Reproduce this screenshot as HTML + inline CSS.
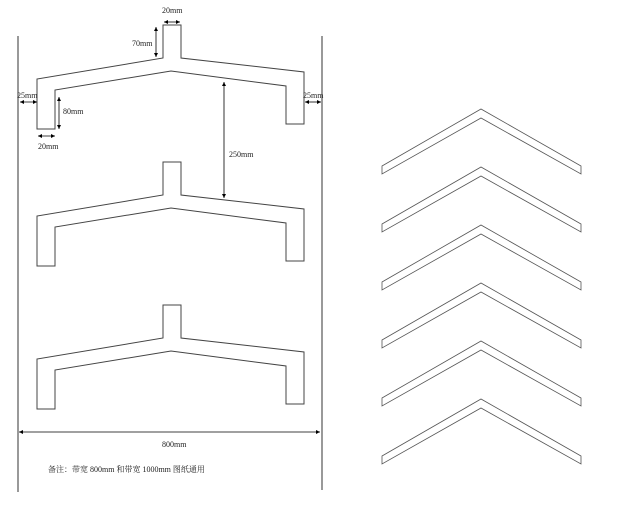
<!DOCTYPE html>
<html><head><meta charset="utf-8"><style>
html,body{margin:0;padding:0;background:#fff;width:624px;height:522px;overflow:hidden}
svg{display:block}
text{font-family:"Liberation Serif","Noto Serif CJK SC",serif;font-size:8px;fill:#222}
</style></head><body>
<svg width="624" height="522" viewBox="0 0 624 522" xmlns="http://www.w3.org/2000/svg">
<defs>
<marker id="a" viewBox="0 0 6 6" refX="6" refY="3" markerWidth="5" markerHeight="5" orient="auto-start-reverse"><path d="M0,0 L6,3 L0,6 Z" fill="#000"/></marker>
<path id="s" d="M163,25 H181 V58 L304,72 V124 H286 V86 L171,71 L55,90 V129 H37 V79 L163,58 Z" fill="none" stroke="#444" stroke-width="1"/>
<path id="c" d="M382,166 L481,109 L581,166 V174 L481,118 L382,174 Z" fill="none" stroke="#555" stroke-width="0.8"/>
</defs>
<line x1="18" y1="36" x2="18" y2="492" stroke="#333"/>
<line x1="322" y1="36" x2="322" y2="490" stroke="#333"/>
<use href="#s"/>
<use href="#s" transform="translate(0,137)"/>
<use href="#s" transform="translate(0,280)"/>
<use href="#c"/>
<use href="#c" transform="translate(0,58)"/>
<use href="#c" transform="translate(0,116)"/>
<use href="#c" transform="translate(0,174)"/>
<use href="#c" transform="translate(0,232)"/>
<use href="#c" transform="translate(0,290)"/>
<g stroke="#000" stroke-width="0.8" fill="none">
<line x1="164" y1="22" x2="180" y2="22" marker-start="url(#a)" marker-end="url(#a)"/>
<line x1="156" y1="27" x2="156" y2="57" marker-start="url(#a)" marker-end="url(#a)"/>
<line x1="20" y1="102" x2="37" y2="102" marker-start="url(#a)" marker-end="url(#a)"/>
<line x1="59" y1="97" x2="59" y2="129" marker-start="url(#a)" marker-end="url(#a)"/>
<line x1="38" y1="136" x2="55" y2="136" marker-start="url(#a)" marker-end="url(#a)"/>
<line x1="224" y1="82" x2="224" y2="198" marker-start="url(#a)" marker-end="url(#a)"/>
<line x1="305" y1="102" x2="321" y2="102" marker-start="url(#a)" marker-end="url(#a)"/>
<line x1="19" y1="432" x2="320" y2="432" marker-start="url(#a)" marker-end="url(#a)"/>
</g>
<text x="162" y="13">20mm</text>
<text x="132" y="46">70mm</text>
<text x="17" y="98">25mm</text>
<text x="63" y="114">80mm</text>
<text x="38" y="149">20mm</text>
<text x="229" y="157">250mm</text>
<text x="303" y="98">25mm</text>
<text x="162" y="447">800mm</text>
<text x="48" y="472">备注：带宽 800mm 和带宽 1000mm 图纸通用</text>
</svg>
</body></html>
